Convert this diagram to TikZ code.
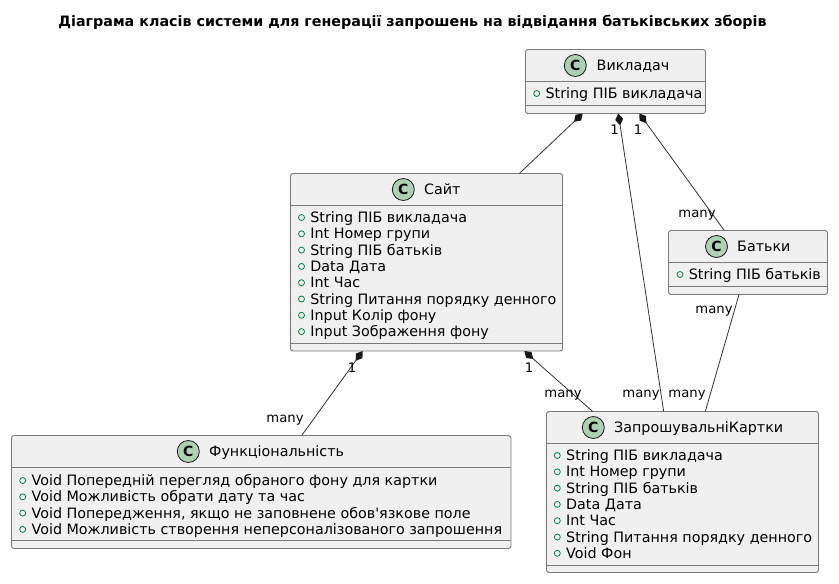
\documentclass[tikz,border=0pt]{standalone}
\usepackage{fontspec}
\setmainfont{DejaVu Sans}[Ligatures=TeXOff]
\usetikzlibrary{arrows.meta}
\definecolor{boxfill}{HTML}{F0F0F0}
\definecolor{boxline}{HTML}{7A7A7A}
\definecolor{circfill}{HTML}{ADD1B2}
\definecolor{inkdark}{HTML}{181818}
\definecolor{linkdark}{HTML}{333333}
\definecolor{markgreen}{HTML}{038048}
\tikzset{
  classbox/.style={draw=boxline,fill=boxfill,line width=0.9pt,rounded corners=2.5pt,inner sep=0pt,outer sep=0pt,anchor=north west},
  seprule/.style={draw=boxline,line width=0.9pt},
  badge/.style={circle,draw=inkdark,fill=circfill,line width=0.8pt,minimum size=22pt,inner sep=0pt,font=\fontsize{14}{14}\selectfont\bfseries},
  classtitle/.style={anchor=base west,inner sep=0pt,font=\fontsize{14.3}{16}\selectfont,text=black},
  rowtext/.style={anchor=base west,inner sep=0pt,font=\fontsize{14.3}{16}\selectfont,text=black},
  rowmark/.style={circle,draw=markgreen,line width=0.8pt,minimum size=6pt,inner sep=0pt},
  link/.style={draw=linkdark,line width=0.8pt},
  comp/.style={link,{Diamond[length=12pt,width=8pt,fill=inkdark,color=inkdark,line width=0pt]}-},
  mult/.style={inner sep=0pt,font=\fontsize{13.2}{15}\selectfont,text=black},
}
% name, x, y, w, h, sep1, sep2, title x, title
\newcommand{\umlclass}[9]{%
  \node[classbox,minimum width=#4pt,minimum height=#5pt] (#1) at (#2,#3) {};
  \draw[seprule] ([yshift=-#6pt]#1.north west) -- ([yshift=-#6pt]#1.north east);
  \draw[seprule] ([yshift=-#7pt]#1.north west) -- ([yshift=-#7pt]#1.north east);
  \node[classtitle] (#1-title) at (#8,#3+20.5) {#9};
}
\newcommand{\umlbadge}[3]{\node[badge] (#1-badge) at (#2,#3) {C};}
% name, mark x, first baseline y, list
\newcommand{\umlrows}[4]{%
  \foreach \rowt [count=\rowi from 0] in {#4} {
    \node[rowmark] (#1-mark-\rowi) at (#2,#3+16.3*\rowi) {};
    \node[rowtext] (#1-row-\rowi) at (#2+8.7,#3+16.3*\rowi+5) {\rowt};
  }%
}
\begin{document}
\begin{tikzpicture}[x=1pt,y=-1pt]
\useasboundingbox (0,0) rectangle (839,584);
\fill[white] (0,0) rectangle (839,584);
\node[inner sep=0pt,font=\fontsize{14.3}{16}\selectfont\bfseries] (title) at (412.5,22) {Діаграма класів системи для генерації запрошень на відвідання батьківських зборів};

\umlclass{vykl}{525.5}{49.5}{180}{64}{32}{56}{596.5}{Викладач}
\umlbadge{vykl}{575.3}{65.5}
\umlrows{vykl}{536.7}{93.5}{String ПІБ викладача}

\umlclass{sait}{290.5}{173.5}{272}{177.5}{32}{170}{424}{Сайт}
\umlbadge{sait}{403.3}{189.5}
\umlrows{sait}{301.5}{217.5}{String ПІБ викладача,Int Номер групи,String ПІБ батьків,Data Дата,Int Час,String Питання порядку денного,Input Колір фону,Input Зображення фону}

\umlclass{batk}{668.5}{230.5}{159}{64}{32}{56}{737}{Батьки}
\umlbadge{batk}{716.5}{246.5}
\umlrows{batk}{680}{274.5}{String ПІБ батьків}

\umlclass{func}{11.5}{435.5}{499.5}{113}{32}{105}{209}{Функціональність}
\umlbadge{func}{188.3}{451.5}
\umlrows{func}{22.7}{480.5}{Void Попередній перегляд обраного фону для картки,Void Можливість обрати дату та час,{Void Попередження, якщо не заповнене обов'язкове поле},Void Можливість створення неперсоналізованого запрошення}

\umlclass{card}{546.5}{411.5}{272}{161}{32}{153.5}{614}{ЗапрошувальніКартки}
\umlbadge{card}{593.3}{427.5}
\umlrows{card}{557.3}{455.5}{String ПІБ викладача,Int Номер групи,String ПІБ батьків,Data Дата,Int Час,String Питання порядку денного,Void Фон}

\draw[comp] ([xshift=57.2pt]vykl.south west) -- ([xshift=228.8pt]sait.north west);
\draw[comp] ([xshift=92.8pt]vykl.south west) -- ([xshift=117.2pt]card.north west);
\draw[comp] ([xshift=113.8pt]vykl.south west) -- ([xshift=55.8pt]batk.north west);
\draw[link] ([xshift=70.5pt]batk.south west) -- ([xshift=158.8pt]card.north west);
\draw[comp] ([xshift=72.2pt]sait.south west) -- ([xshift=290.2pt]func.north west);
\draw[comp] ([xshift=233.8pt]sait.south west) -- ([xshift=46.2pt]card.north west);

\node[mult] (m1) at (614.5,130) {1};
\node[mult] (m2) at (638,130) {1};
\node[mult] (m3) at (697,215) {many};
\node[mult] (m4) at (714,311) {many};
\node[mult] (m5) at (641,395.5) {many};
\node[mult] (m6) at (687,395.5) {many};
\node[mult] (m7) at (563,395.5) {many};
\node[mult] (m8) at (529,367.5) {1};
\node[mult] (m9) at (352,367.5) {1};
\node[mult] (m10) at (285,420.5) {many};
\end{tikzpicture}
\end{document}
